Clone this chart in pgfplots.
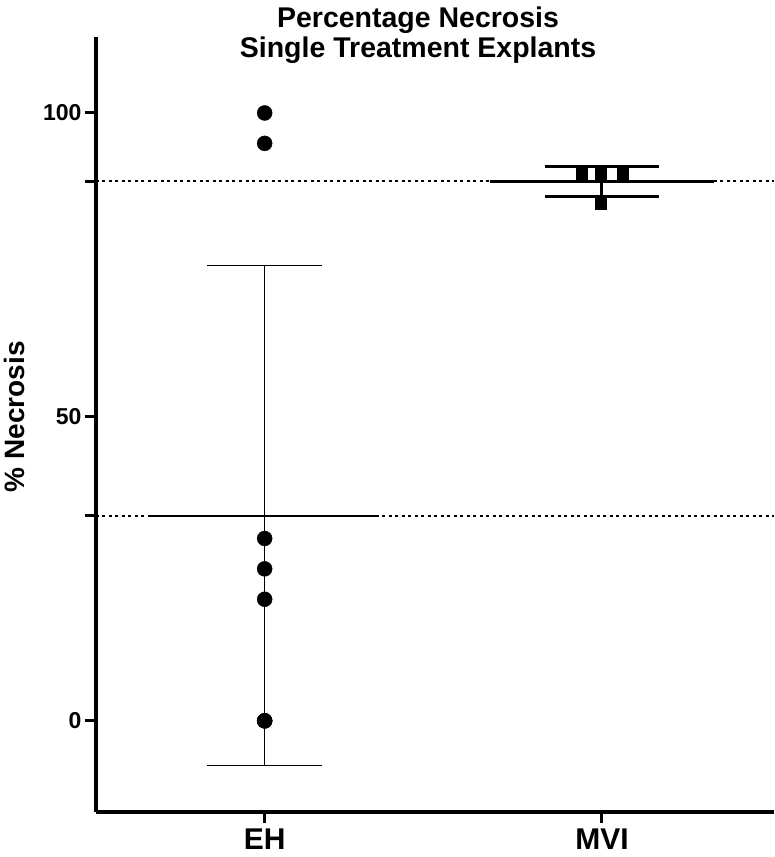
\documentclass[border=0pt]{standalone}
\usepackage{fontspec}
\setmainfont{Liberation Sans}
\usepackage{pgfplots}
\pgfplotsset{compat=1.18}
\begin{document}
\begin{tikzpicture}
\begin{axis}[
  width=678pt, height=775pt, scale only axis,
  xmin=0.5, xmax=2.51, ymin=-15, ymax=112.5,
  axis x line*=bottom, axis y line*=left,
  axis line style={line width=4pt,-},
  tick align=outside,
  major tick length=11pt,
  tick style={line width=3pt, black},
  xtick={1,2}, xticklabels={EH,MVI},
  ytick={0,50,100},
  extra y ticks={33.75,88.75}, extra y tick labels={},
  extra y tick style={tick style={line width=3pt}},
  xticklabel style={font=\fontsize{30}{34}\selectfont\bfseries, yshift=-2pt},
  yticklabel style={font=\fontsize{23}{26}\selectfont\bfseries, /pgf/number format/assume math mode=true},
  ylabel={\% Necrosis},
  ylabel style={font=\fontsize{28}{32}\selectfont\bfseries, at={(axis description cs:-0.12,0.51)}, anchor=center},
  title={Percentage Necrosis\\Single Treatment Explants},
  title style={font=\fontsize{28.5}{30}\selectfont\bfseries, align=center, inner sep=0pt,
    at={(axis description cs:0.475,1.0)}, anchor=south, yshift=-33pt},
  clip=false,
]
% dotted reference lines
\addplot[black, line width=2pt, dash pattern=on 3pt off 3.5pt] coordinates {(0.5,33.75) (2.51,33.75)};
\addplot[black, line width=2pt, dash pattern=on 3pt off 3.5pt] coordinates {(0.5,88.75) (2.51,88.75)};
% EH mean and SD
\addplot[black, line width=2pt] coordinates {(0.66,33.75) (1.335,33.75)};
\addplot[black, line width=1.3pt] coordinates {(1,-7.35) (1,74.85)};
\addplot[black, line width=1.3pt] coordinates {(0.83,74.85) (1.17,74.85)};
\addplot[black, line width=1.3pt] coordinates {(0.83,-7.35) (1.17,-7.35)};
% MVI mean and SD
\addplot[black, line width=3pt] coordinates {(1.668,88.75) (2.332,88.75)};
\addplot[black, line width=3pt] coordinates {(2,86.25) (2,91.25)};
\addplot[black, line width=3pt] coordinates {(1.83,91.25) (2.17,91.25)};
\addplot[black, line width=3pt] coordinates {(1.83,86.25) (2.17,86.25)};
% EH points
\addplot[only marks, mark=*, mark size=7.5pt, black] coordinates {
  (1,100) (1,95) (1,30) (1,25) (1,20) (1,0) (1,0) (1,0)};
% MVI points
\addplot[only marks, mark=square*, mark size=5.5pt, black] coordinates {
  (1.94,90) (1.997,90) (2.06,90) (1.997,85)};
\end{axis}
\pgfresetboundingbox
\path[use as bounding box] ([shift={(-96pt,-45pt)}]current axis.south west) rectangle ([shift={(0pt,37pt)}]current axis.north east);
\end{tikzpicture}
\end{document}
